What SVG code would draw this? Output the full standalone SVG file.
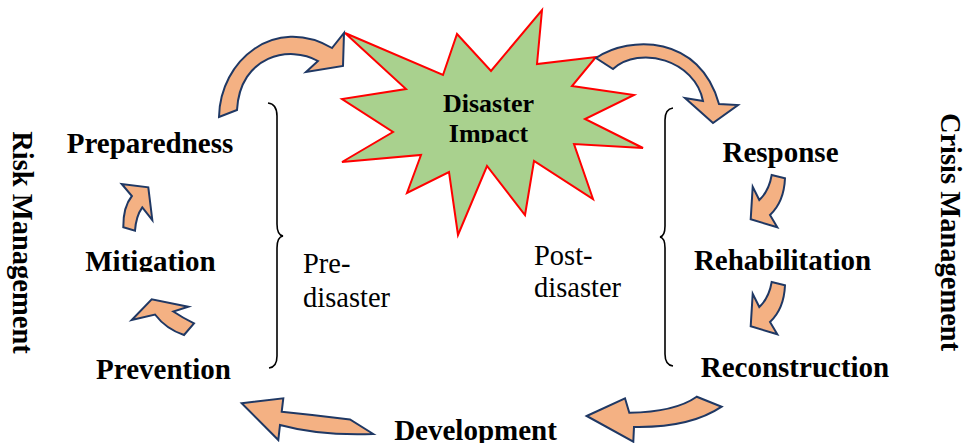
<svg xmlns="http://www.w3.org/2000/svg" width="964" height="443" viewBox="0 0 964 443">
  <style>
    .lbl { font-family: "Liberation Serif", "Times New Roman", serif; font-weight: bold; font-size: 29px; fill: #000; }
    .side { font-family: "Liberation Serif", "Times New Roman", serif; font-weight: bold; font-size: 28.5px; fill: #000; }
    .phase { font-family: "Liberation Serif", "Times New Roman", serif; font-size: 28.5px; fill: #000; }
    .burst-lbl { font-family: "Liberation Serif", "Times New Roman", serif; font-weight: bold; font-size: 26px; fill: #000; text-anchor: middle; }
    .arrow { fill: #F4B183; stroke: #1F3864; stroke-width: 2; stroke-linejoin: miter; }
    .brace { fill: none; stroke: #000; stroke-width: 1.6; }
  </style>
  <defs>
    <clipPath id="clip-mitigation"><rect x="0" y="230" width="260" height="42"/></clipPath>
    <clipPath id="clip-impact"><rect x="400" y="80" width="180" height="63"/></clipPath>
  </defs>

  <rect width="964" height="443" fill="#fff"/>

  <!-- side headings -->
  <text class="side" transform="translate(13,242.5) rotate(90)" text-anchor="middle">Risk Management</text>
  <text class="side" transform="translate(941,232) rotate(90)" text-anchor="middle" font-size="28">Crisis Management</text>

  <!-- braces -->
  <g id="brace-pre">
    <path class="brace" d="M268,103 Q277,104 277,116 L277,224 Q277,235 283,236 Q277,237 277,248 L277,356 Q277,367 269,368"/>
  </g>
  <g id="brace-post">
    <path class="brace" d="M673,108 Q665,109 665,120 L665,226 Q665,236 660,237 Q665,238 665,248 L665,354 Q665,365 673,366"/>
  </g>

  <!-- central event -->
  <g id="disaster-impact">
    <polygon points="345,33 443,75 457,34 491,71 542,10 537,64 596,57 572,86 634,95 585,119 643,148 574,144 593,199 534,161 525,215 487,166 458,235 449,172 407,193 421,155 342,162 393,132 342,99 406,89"
             fill="#A9D18E" stroke="#FF0000" stroke-width="2" stroke-linejoin="miter"/>
    <text class="burst-lbl" x="488.5" y="112">Disaster</text>
    <text class="burst-lbl" x="488.5" y="142" clip-path="url(#clip-impact)">Impact</text>
  </g>

  <!-- phase labels -->
  <g id="preparedness"><text class="lbl" x="150" y="153" text-anchor="middle">Preparedness</text></g>
  <g id="mitigation"><text class="lbl" x="150.5" y="271" text-anchor="middle" clip-path="url(#clip-mitigation)">Mitigation</text></g>
  <g id="prevention"><text class="lbl" x="163.5" y="378.5" text-anchor="middle">Prevention</text></g>
  <g id="response"><text class="lbl" x="780.5" y="161.5" text-anchor="middle">Response</text></g>
  <g id="rehabilitation"><text class="lbl" x="782.5" y="270" text-anchor="middle">Rehabilitation</text></g>
  <g id="reconstruction"><text class="lbl" x="795" y="376.5" text-anchor="middle">Reconstruction</text></g>
  <g id="development"><text class="lbl" x="475.5" y="439.5" text-anchor="middle">Development</text></g>

  <g id="pre-disaster">
    <text class="phase" x="303" y="273">Pre-</text>
    <text class="phase" x="303" y="307">disaster</text>
  </g>
  <g id="post-disaster">
    <text class="phase" x="534" y="265">Post-</text>
    <text class="phase" x="534" y="297">disaster</text>
  </g>

  <!-- cycle arrows -->
  <g id="connectors">
    <!-- Preparedness to Disaster Impact -->
    <path class="arrow" d="M219,117 C220,60 275,15 332,48 L344,33 L343,66 L306,72 L318,61 C290,45 240,55 237,110 Z"/>
    <!-- Disaster Impact to Response -->
    <path class="arrow" d="M596,58 C630,35 700,35 719,104 L738,105 L713,123 L685,98 L703,101 C695,60 640,45 613,69 Z"/>
    <!-- Response to Rehabilitation -->
    <path class="arrow" d="M771.7,175 L785,178.3 Q784,202 770,215 L777.3,227.3 L750.7,219.3 L752.7,186.7 L759.3,200 Q769,191 771.7,175 Z"/>
    <!-- Rehabilitation to Reconstruction -->
    <path class="arrow" transform="translate(0,107)" d="M771.7,175 L785,178.3 Q784,202 770,215 L777.3,227.3 L750.7,219.3 L752.7,186.7 L759.3,200 Q769,191 771.7,175 Z"/>
    <!-- Reconstruction to Development -->
    <path class="arrow" d="M586.7,416 L625,398.3 L629.3,412.7 Q675,412 696.7,396.7 L721.7,406.7 Q690,428 634,427 L633.3,441.7 Z"/>
    <!-- Development to Prevention -->
    <path class="arrow" d="M241.7,403.3 L283.3,398.3 L281.7,411.7 Q315,415 350,419.5 L373.3,434 Q320,436 280,425 L278.3,440 Z"/>
    <!-- Prevention to Mitigation -->
    <path class="arrow" d="M184,335 Q166,329 155,314.5 L131.7,320 L151.7,299.3 L188.3,306.7 L173.3,311.5 Q183,318 194,323.3 Z"/>
    <!-- Mitigation to Preparedness -->
    <path class="arrow" d="M123.3,227.3 Q123,207 131.9,196 L121.7,184 L148.3,187.3 L152.3,220 L142.3,207.3 Q136,216 135,230.7 Z"/>
  </g>
</svg>
